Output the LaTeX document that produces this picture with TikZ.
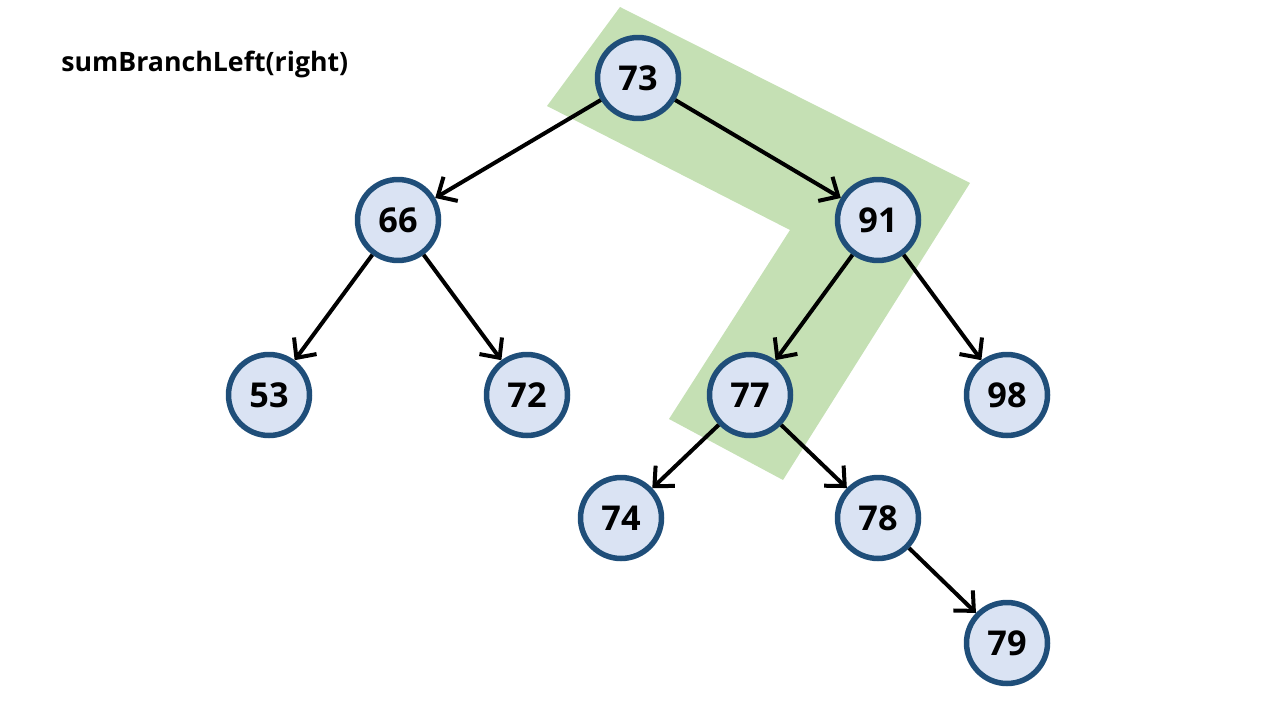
\documentclass[tikz,border=0pt]{standalone}
\usepackage{fontspec}
\setmainfont{Open Sans}
\usetikzlibrary{arrows.meta}
\definecolor{ringblue}{HTML}{1F4E79}
\definecolor{fillblue}{HTML}{DAE3F3}
\definecolor{pathgreen}{HTML}{C5E0B4}
\begin{document}
\begin{tikzpicture}[x=0.02cm,y=-0.02cm,
  treenode/.style={circle,draw=ringblue,fill=fillblue,line width=0.11cm,
    minimum size=1.62cm,inner sep=0pt,font=\fontsize{19.5}{22}\selectfont\bfseries},
  edge/.style={line width=0.08cm,-{Straight Barb[length=0.3cm,width=0.56cm,line width=0.08cm]}}]
\useasboundingbox (0,0) rectangle (1280,720);
% highlighted branch
\fill[pathgreen] (620,7) -- (970,183) -- (783,480) -- (669,419) -- (790,230) -- (547,106) -- cycle;
% title
\node[anchor=base west,inner sep=0pt,font=\fontsize{15.2}{18}\selectfont\bfseries] (title) at (61,71) {sumBranchLeft(right)};
% nodes
\node[treenode] (n73) at (638,78) {73};
\node[treenode] (n66) at (398,220) {66};
\node[treenode] (n91) at (878,220) {91};
\node[treenode] (n53) at (269,395) {53};
\node[treenode] (n72) at (527,395) {72};
\node[treenode] (n77) at (750,395) {77};
\node[treenode] (n98) at (1007,395) {98};
\node[treenode] (n74) at (621,518) {74};
\node[treenode] (n78) at (878,518) {78};
\node[treenode] (n79) at (1007,643) {79};
% edges
\draw[edge] (n73) -- (n66);
\draw[edge] (n73) -- (n91);
\draw[edge] (n66) -- (n53);
\draw[edge] (n66) -- (n72);
\draw[edge] (n91) -- (n77);
\draw[edge] (n91) -- (n98);
\draw[edge] (n77) -- (n74);
\draw[edge] (n77) -- (n78);
\draw[edge] (n78) -- (n79);
\end{tikzpicture}
\end{document}
